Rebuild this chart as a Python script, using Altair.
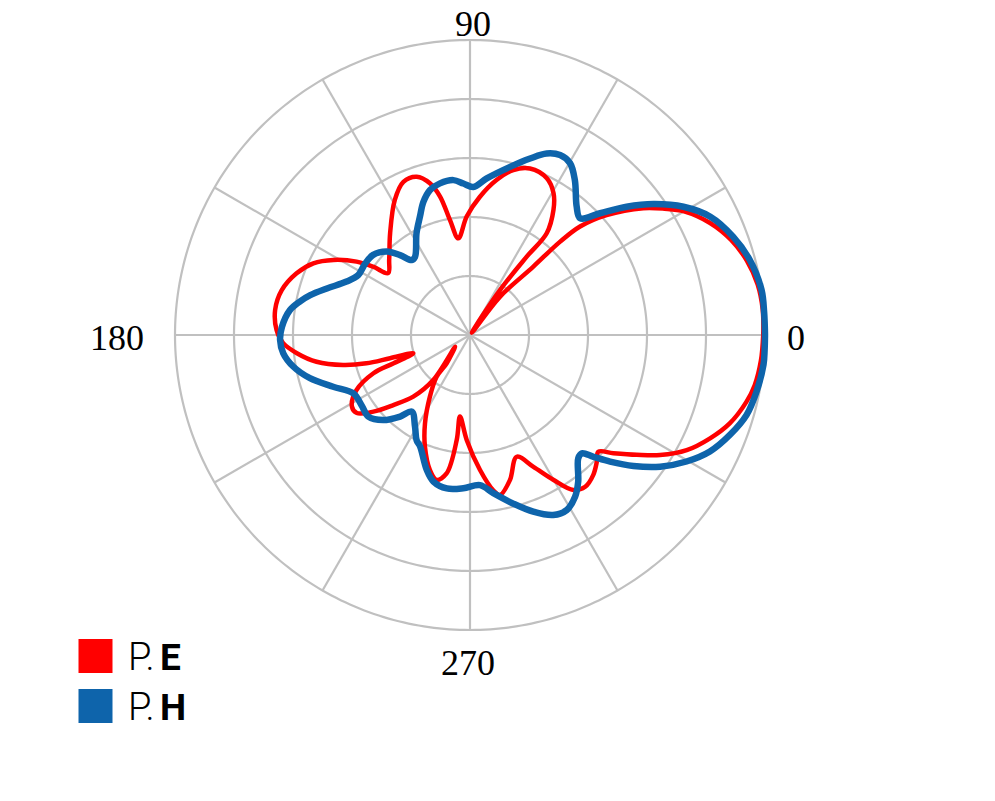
import altair as alt
import pandas as pd
import numpy as np

# ---------------- data (angle in degrees, level in dB) ----------------
pe_angle = [0, 5, 10, 15, 20, 25, 30, 33, 36.2, 41.3, 44.6, 46, 47.2, 51.9, 50,
            56.3, 54.1, 53, 56.3, 59.5, 63.9, 70.2, 75.3, 80.2, 85.9, 91.6, 96.9,
            99.9, 102.2, 104.8, 108.6, 113.5, 119.1, 128.2, 137.1, 142.9, 144.8,
            147.1, 151.2, 155.4, 160.4, 166.6, 172.7, 178.5, 182.5, 186, 189.9,
            193.3, 195.3, 196.2, 197.9, 200.3, 201.6, 205.9, 211.2, 214.6, 218.4,
            222.4, 227.4, 230.8, 218, 230.5, 231.4, 237, 243, 248, 253.5, 257,
            260.4, 262.8, 263, 268.2, 274.2, 278.5, 280.6, 285.4, 291, 295.7,
            299.9, 303.7, 307.2, 311.4, 315, 317.7, 320.5, 324.3, 327.7, 332,
            336.7, 341.2, 346.4, 350, 355, 360]
pe_db = [-0.3, -0.2, -0.5, -1.4, -2.9, -5.1, -8.1, -10.7, -13.6, -19.2, -23.8,
         -28.0, -34.2, -41.8, -49.5, -40.8, -33.6, -28.4, -24.5, -22.1, -20.4,
         -20.0, -21.1, -23.3, -26.5, -29.9, -33.5, -30.2, -26.0, -23.4, -21.7,
         -21.7, -23.8, -28.1, -31.3, -32.6, -29.9, -27.1, -23.6, -20.8, -18.8,
         -17.2, -16.7, -17.2, -18.3, -20.5, -23.6, -27.9, -31.8, -35.9, -39.9,
         -36.2, -32.4, -28.6, -26.6, -26.7, -29.1, -32.4, -35.8, -40.2, -46.8,
         -43.8, -40.9, -37.5, -33.2, -29.6, -26.1, -24.8, -26.2, -32.1, -36.1,
         -32.2, -27.1, -23.4, -22.4, -24.5, -27.9, -25.2, -21.7, -18.4, -17.7,
         -18.4, -19.6, -20.6, -18.5, -15.2, -11.9, -8.4, -5.7, -3.5, -1.8,
         -1.0, -0.5, -0.3]

ph_angle = [0, 4.4, 8.8, 15, 20.5, 26.2, 31, 35.5, 39.3, 43.1, 46.7, 50.3, 55.9,
            59.8, 63.4, 67.1, 71.2, 76.6, 83.9, 88.7, 92.5, 96.1, 101.2, 105.4,
            109.3, 112.9, 117.7, 125.1, 127.9, 131.2, 135, 140.4, 145.7, 151.8,
            156.6, 162, 166, 168.9, 172.1, 177.5, 181.5, 185.6, 190.2, 195.1,
            200.7, 206.6, 212.9, 218.8, 224.4, 229.4, 232.8, 239, 243.1, 245.9,
            252.2, 256, 261.4, 267.5, 273.8, 278.4, 284.4, 289.7, 294.8, 298.9,
            303, 306.4, 311.3, 313.4, 315.4, 317.9, 321.3, 325.3, 329.7, 334.1,
            339, 343.9, 348.8, 354.2, 357, 360]
ph_db = [0.0, 0.0, 0.0, -0.9, -2.4, -4.6, -7.8, -11.8, -15.7, -19.8, -22.8,
         -21.7, -18.3, -16.3, -15.9, -16.6, -18.4, -20.7, -23.3, -24.9, -24.3,
         -23.6, -23.8, -24.5, -26.1, -28.2, -30.5, -33.8, -33.9, -32.0, -30.0,
         -28.7, -28.5, -28.5, -27.2, -24.5, -22.1, -20.6, -19.2, -18.1, -17.8,
         -18.2, -19.6, -21.9, -25.2, -27.9, -28.1, -27.9, -29.4, -31.8, -33.7,
         -31.9, -30.0, -29.3, -26.0, -24.4, -23.7, -24.0, -24.5, -22.9, -20.5,
         -18.2, -16.4, -16.1, -17.3, -19.1, -22.2, -22.4, -20.6, -18.0, -14.5,
         -10.8, -7.5, -4.8, -2.8, -1.2, -0.5, 0.0, 0.0, 0.0]

ring_db = [-40, -30, -20, -10, 0]
spoke_angles = [0, 30, 60, 90, 120, 150, 180, 210, 240, 270, 300, 330]
label_angles = [0, 90, 180, 270]
label_text = ["0", "90", "180", "270"]
legend_prefix = ["P.", "P."]
legend_suffix = ["E", "H"]
legend_colors = ["#ff0000", "#0e64ab"]

R_MIN = -50.0
R_MAX = 0.0
SPAN = R_MAX - R_MIN

# ---------------- tables ----------------
pe = pd.DataFrame({"angle": pe_angle, "db": pe_db, "i": range(len(pe_angle))})
ph = pd.DataFrame({"angle": ph_angle, "db": ph_db, "i": range(len(ph_angle))})

ring_rows = []
for lvl in ring_db:
    for a in np.arange(0, 361, 1.0):
        ring_rows.append({"ring": lvl, "angle": float(a), "db": lvl})
rings = pd.DataFrame(ring_rows)
spokes = pd.DataFrame({"angle": spoke_angles})
labels = pd.DataFrame({"angle": label_angles, "text": label_text})

xy_x = f"max(datum.db - ({R_MIN}), 0) * cos(datum.angle * PI / 180)"
xy_y = f"max(datum.db - ({R_MIN}), 0) * sin(datum.angle * PI / 180)"

sc = alt.Scale(domain=[-SPAN, SPAN], nice=False, zero=False)
X = alt.X("x:Q", scale=sc, axis=None)
Y = alt.Y("y:Q", scale=sc, axis=None)

GRID = "#c0c0c0"

ring_layer = alt.Chart(rings).transform_calculate(x=xy_x, y=xy_y).mark_line(
    color=GRID, strokeWidth=2.2
).encode(x=X, y=Y, detail="ring:N", order="angle:Q")

spoke_layer = alt.Chart(spokes).transform_calculate(
    x="0", y="0",
    x2=f"{SPAN} * cos(datum.angle * PI / 180)",
    y2=f"{SPAN} * sin(datum.angle * PI / 180)",
).mark_rule(color=GRID, strokeWidth=2.2).encode(
    x=X, y=Y, x2="x2:Q", y2="y2:Q"
)

pe_layer = alt.Chart(pe).transform_calculate(x=xy_x, y=xy_y).mark_line(
    color=legend_colors[0], strokeWidth=4.5, interpolate="catmull-rom",
    strokeJoin="round", strokeCap="round"
).encode(x=X, y=Y, order="i:Q")

ph_layer = alt.Chart(ph).transform_calculate(x=xy_x, y=xy_y).mark_line(
    color=legend_colors[1], strokeWidth=6.5, interpolate="catmull-rom",
    strokeJoin="round", strokeCap="round"
).encode(x=X, y=Y, order="i:Q")

lab_base = alt.Chart(labels).transform_calculate(
    x=f"{SPAN} * cos(datum.angle * PI / 180)",
    y=f"{SPAN} * sin(datum.angle * PI / 180)",
)
lab_font = dict(font="Liberation Serif", fontSize=36, color="#000000",
                baseline="alphabetic")
lab_layers = [
    lab_base.transform_filter("datum.angle == 0").mark_text(
        align="left", dx=22, dy=15, **lab_font).encode(x=X, y=Y, text="text:N"),
    lab_base.transform_filter("datum.angle == 90").mark_text(
        align="center", dx=3, dy=-4, **lab_font).encode(x=X, y=Y, text="text:N"),
    lab_base.transform_filter("datum.angle == 180").mark_text(
        align="right", dx=-31, dy=15, **lab_font).encode(x=X, y=Y, text="text:N"),
    lab_base.transform_filter("datum.angle == 270").mark_text(
        align="center", dx=-2, dy=45, **lab_font).encode(x=X, y=Y, text="text:N"),
]

legend_layers = []
leg_df = pd.DataFrame({"prefix": legend_prefix, "suffix": legend_suffix,
                       "color": legend_colors})
for k in range(len(legend_prefix)):
    row = leg_df.iloc[[k]]
    cy = 616 + 50 * k
    base = alt.Chart(row)
    legend_layers.append(base.mark_square(size=34 * 34, opacity=1, filled=True).encode(
        x=alt.value(-79.5), y=alt.value(cy),
        color=alt.Color("color:N", scale=None)))
    legend_layers.append(base.mark_text(
        align="left", baseline="alphabetic", font="Roboto", fontWeight=300,
        fontSize=38, color="#000000").encode(
        x=alt.value(-47), y=alt.value(cy + 14), text="prefix:N"))
    legend_layers.append(base.mark_text(
        align="left", baseline="alphabetic", font="Roboto", fontWeight="bold",
        fontSize=37, color="#000000").encode(
        x=alt.value(-15), y=alt.value(cy + 14), text="suffix:N"))

chart = alt.layer(
    ring_layer, spoke_layer, pe_layer, ph_layer, *lab_layers, *legend_layers
).properties(
    width=590, height=590,
    autosize=alt.AutoSizeParams(type="none"),
    padding={"left": 167, "top": 32, "right": 215, "bottom": 150},
    background="#ffffff",
).configure_view(stroke=None)

chart.save("out.html", embed_options={"renderer": "svg", "actions": False})
